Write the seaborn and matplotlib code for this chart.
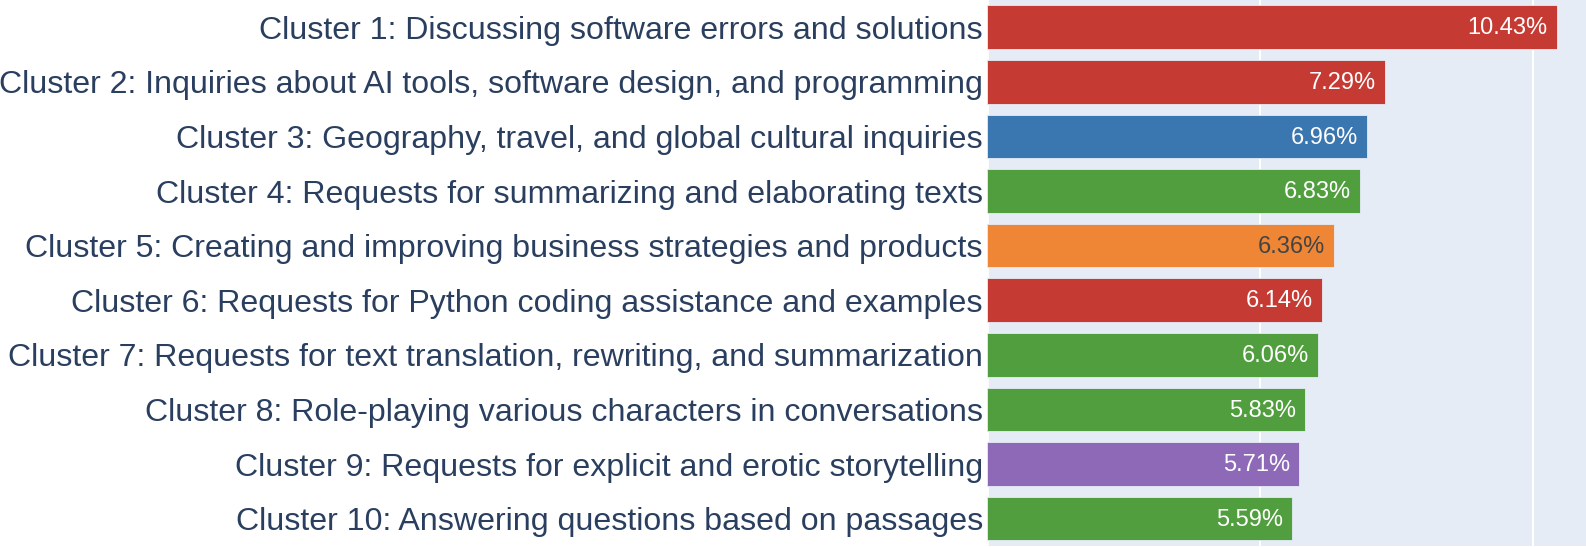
import seaborn as sns
import matplotlib
matplotlib.use("Agg")
from matplotlib import pyplot as plt

clusters = [
    "Cluster 1: Discussing software errors and solutions",
    "Cluster 2: Inquiries about AI tools, software design, and programming",
    "Cluster 3: Geography, travel, and global cultural inquiries",
    "Cluster 4: Requests for summarizing and elaborating texts",
    "Cluster 5: Creating and improving business strategies and products",
    "Cluster 6: Requests for Python coding assistance and examples",
    "Cluster 7: Requests for text translation, rewriting, and summarization",
    "Cluster 8: Role-playing various characters in conversations",
    "Cluster 9: Requests for explicit and erotic storytelling",
    "Cluster 10: Answering questions based on passages",
]
shares = [10.43, 7.29, 6.96, 6.83, 6.36, 6.14, 6.06, 5.83, 5.71, 5.59]
bar_colors = ["#C53A32", "#C53A32", "#3A76AF", "#519E3E", "#EF8636",
              "#C53A32", "#519E3E", "#519E3E", "#8D69B8", "#519E3E"]
text_colors = ["white", "white", "white", "white", "#444444",
               "white", "white", "white", "white", "white"]

sns.set_style("white")
plt.rcParams["font.family"] = ["Liberation Sans", "DejaVu Sans"]

fig = plt.figure(figsize=(15.86, 5.47), dpi=100)
ax = fig.add_axes([987 / 1586, 0.002, 1 - 987 / 1586, 0.998])
ax.set_facecolor("#E5ECF6")

sns.barplot(x=shares, y=clusters, hue=clusters, palette=bar_colors,
            legend=False, orient="h", width=0.8, saturation=1,
            edgecolor="#E5ECF6", linewidth=0.6, ax=ax, zorder=3)

# value labels inside the bar ends
for i, (v, c) in enumerate(zip(shares, text_colors)):
    ax.annotate(f"{v:.2f}%", xy=(v, i), xytext=(-6.5, -0.8),
                textcoords="offset points", ha="right", va="center",
                color=c, fontsize=17, zorder=4)

ax.set_xlim(0, 10.97)
ax.set_ylim(9.5, -0.5)
ax.set_xticks([5, 10])
ax.xaxis.grid(True, color="white", linewidth=1.5, zorder=0)
ax.axvline(0, color="white", linewidth=2, zorder=1)
ax.set_xticklabels([])
ax.tick_params(axis="x", length=0)
ax.tick_params(axis="y", length=0, pad=3, labelsize=23.1, labelcolor="#2A3F5F")
ax.set_xlabel("")
ax.set_ylabel("")
for s in ax.spines.values():
    s.set_visible(False)

fig.savefig("out.png", dpi=100)
